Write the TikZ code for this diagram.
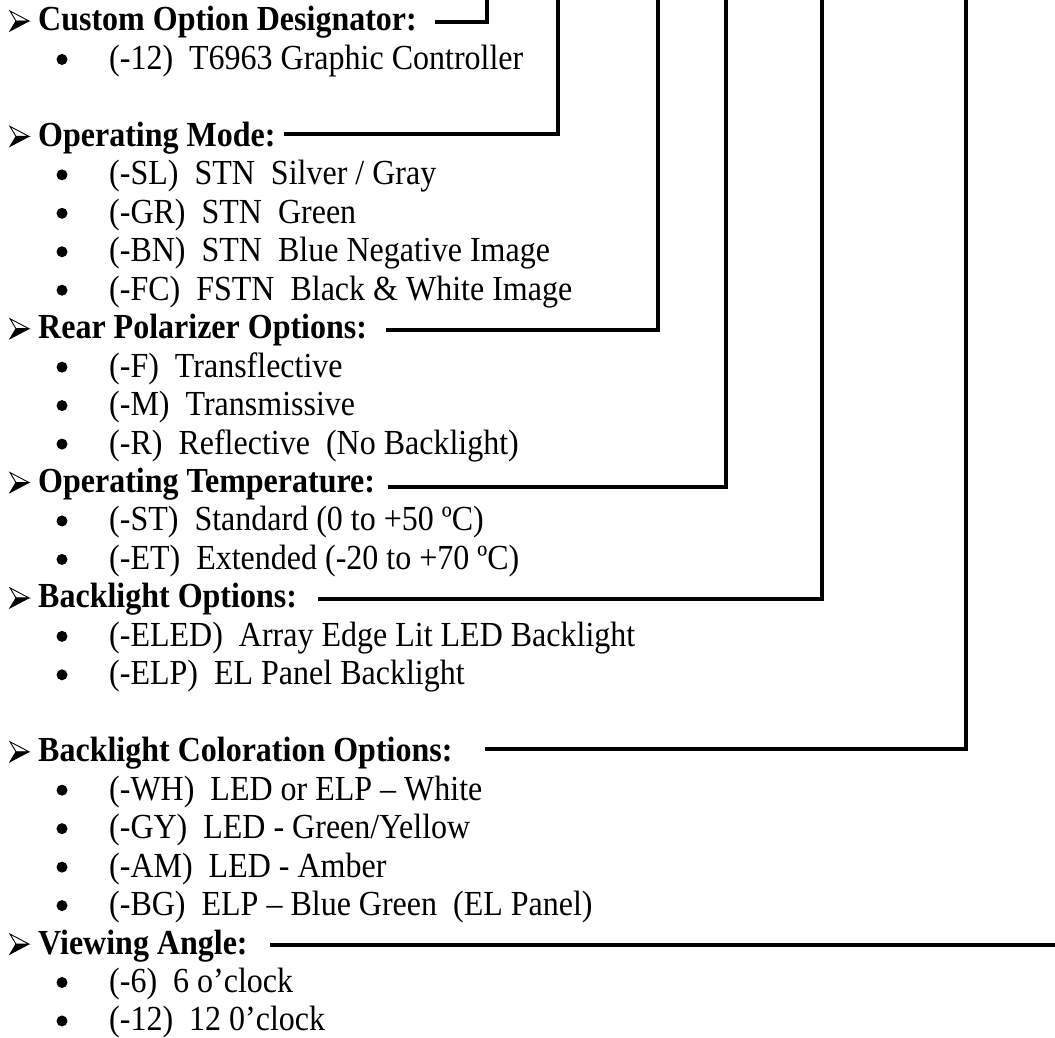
\documentclass[tikz,border=0pt]{standalone}
\usepackage{fontspec}
\usepackage{graphicx}
\setmainfont{Liberation Serif}
\newcommand\vstr[1]{\scalebox{1}[1.1]{#1}}
\begin{document}
\begin{tikzpicture}[x=1pt,y=-1pt,
  head/.style={anchor=base west,inner sep=0pt,font=\fontsize{32}{38}\selectfont\bfseries},
  item/.style={anchor=base west,inner sep=0pt,font=\fontsize{32}{38}\selectfont},
  conn/.style={line width=3.5pt,line join=miter,line cap=rect},
  harrowpic/.pic={
    \fill[black] (13,0) -- (-6,10) -- (0,0) -- cycle;
    \draw[line width=0.9pt,line join=miter] (13,0) -- (-6,-10) -- (0,0) -- cycle;
    \draw[line width=0.9pt,line join=miter] (13,0) -- (-6,10) -- (0,0);
  }]
\useasboundingbox (0,0) rectangle (1055,1038);
\def\rowy#1{22+38.46*#1}
% headings
\foreach \k/\n/\t in {0/h1/{Custom Option Designator:},3/h2/{Operating Mode:},8/h3/{Rear Polarizer Options:},12/h4/{Operating Temperature:},15/h5/{Backlight Options:},19/h6/{Backlight Coloration Options:},24/h7/{Viewing Angle:}}{
  \pic (a\n) at (16,{\rowy{\k}-1}) {harrowpic};
  \node[head] (\n) at (38,{\rowy{\k}+9}) {\vstr{\t}};
}
% items
\foreach \k/\n/\t in {1/i1/{(-12)~ T6963 Graphic Controller},
 4/i2/{(-SL)~ STN~ Silver / Gray},5/i3/{(-GR)~ STN~ Green},6/i4/{(-BN)~ STN~ Blue Negative Image},7/i5/{(-FC)~ FSTN~ Black \& White Image},
 9/i6/{(-F)~ Transflective},10/i7/{(-M)~ Transmissive},11/i8/{(-R)~ Reflective~ (No Backlight)},
 13/i9/{(-ST)~ Standard (0 to +50 ºC)},14/i10/{(-ET)~ Extended (-20 to +70 ºC)},
 16/i11/{(-ELED)~ Array Edge Lit LED Backlight},17/i12/{(-ELP)~ EL Panel Backlight},
 20/i13/{(-WH)~ LED or ELP – White},21/i14/{(-GY)~ LED - Green/Yellow},22/i15/{(-AM)~ LED - Amber},23/i16/{(-BG)~ ELP – Blue Green~ (EL Panel)},
 25/i17/{(-6)~ 6 o’clock},26/i18/{(-12)~ 12 0’clock}}{
  \fill (62,{\rowy{\k}-1}) circle[radius=5.5];
  \node[item] (\n) at (109,{\rowy{\k}+9}) {\vstr{\t}};
}
% connector points
\coordinate (s1) at (437,22);  \coordinate (c1) at (487,22);  \coordinate (t1) at (487,0);
\coordinate (s2) at (286,134); \coordinate (c2) at (558,134); \coordinate (t2) at (558,0);
\coordinate (s3) at (388,330); \coordinate (c3) at (658,330); \coordinate (t3) at (658,0);
\coordinate (s4) at (390,487); \coordinate (c4) at (726,487); \coordinate (t4) at (726,0);
\coordinate (s5) at (320,599); \coordinate (c5) at (822,599); \coordinate (t5) at (822,0);
\coordinate (s6) at (487,749); \coordinate (c6) at (966,749); \coordinate (t6) at (966,0);
\coordinate (s7) at (272,945); \coordinate (e7) at (1055,945);
\draw[conn] (s1) -- (c1) -- (t1);
\draw[conn] (s2) -- (c2) -- (t2);
\draw[conn] (s3) -- (c3) -- (t3);
\draw[conn] (s4) -- (c4) -- (t4);
\draw[conn] (s5) -- (c5) -- (t5);
\draw[conn] (s6) -- (c6) -- (t6);
\draw[conn] (s7) -- (e7);
\end{tikzpicture}
\end{document}
